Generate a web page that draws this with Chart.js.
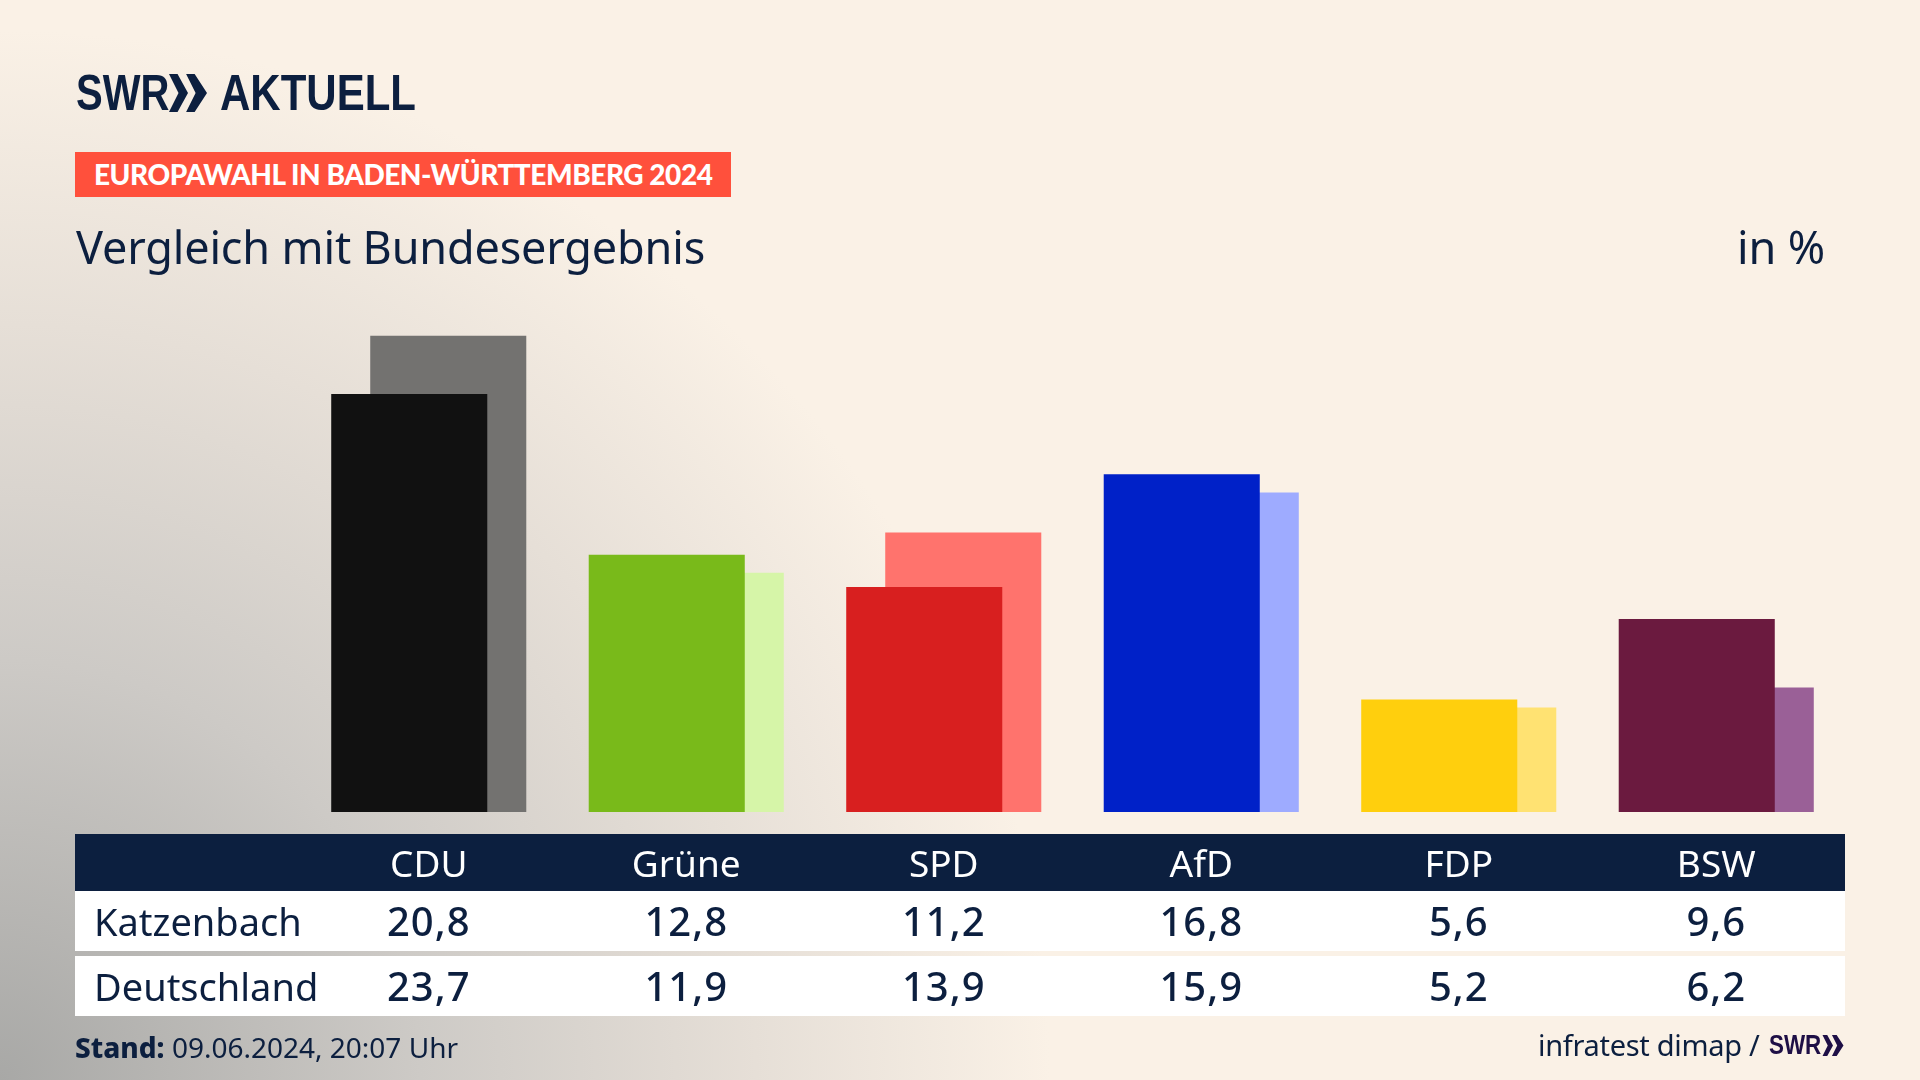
<!DOCTYPE html>
<html lang="de">
<head>
<meta charset="utf-8">
<title>Europawahl in Baden-Württemberg 2024</title>
<script src="https://cdn.jsdelivr.net/npm/chart.js@4"></script>
<style>
  html, body { margin: 0; padding: 0; }
  body {
    position: relative; width: 1920px; height: 1080px; overflow: hidden;
    font-family: "Noto Sans", Lato, sans-serif; color: #0c1f3f;
    background: radial-gradient(ellipse 1050px 1050px at 0% 100%, #a8a8a6 0%, #cdcac6 40%, #e6dfd7 72%, #faf1e6 100%) #faf1e6;
  }
  #chart { position: absolute; left: 0; top: 0; }
  .abs { position: absolute; white-space: nowrap; }
  .logo { font-family: "Liberation Sans", sans-serif; font-weight: 700; font-size: 50px; line-height: 50px; transform-origin: left center; }
  #banner { left: 75px; top: 152px; width: 656px; height: 45px; background: #ff503c; color: #fff;
    font-family: Lato, sans-serif; font-weight: 900; font-size: 28px; letter-spacing: -0.45px; line-height: 45px; text-indent: 19px; }
  #title { left: 76px; top: 217px; font-size: 45px; line-height: 60px; letter-spacing: -0.15px; }
  #unit { right: 95px; top: 217px; font-size: 45px; line-height: 60px; letter-spacing: -0.15px; }
  #table { left: 75px; top: 834px; width: 1770px; }
  .row { display: grid; grid-template-columns: 225px repeat(6, 1fr); align-items: center; text-align: center; }
  .row.head { height: 57px; background: #0c1f3f; color: #fff; font-size: 37px; line-height: 55px; }
  .row.body { height: 60px; background: #fff; font-size: 40px; font-weight: 500; letter-spacing: 1px; line-height: 58px; }
  .row.body + .row.body { margin-top: 5px; }
  .row .name { text-align: left; padding-left: 19px; font-size: 38px; font-weight: 400; letter-spacing: 0; }
  #stand { left: 75px; top: 1027px; font-size: 28px; line-height: 40px; }
  #source { left: 1538px; top: 1025px; font-size: 29px; line-height: 40px; letter-spacing: -0.3px; }
</style>
</head>
<body>
<canvas id="chart" width="1920" height="1080"></canvas>

<div class="abs logo" style="left:76px;top:68px;transform:scaleX(.8)">SWR</div>
<svg class="abs" style="left:168px;top:74px" width="40" height="38" viewBox="0 0 40 40" fill="#0c1f3f">
  <polygon points="0,0 9,0 20,20 9,40 0,40 10,20"/><polygon points="18,0 27,0 40,20 27,40 18,40 28,20"/>
</svg>
<div class="abs logo" style="left:220px;top:68px;transform:scaleX(.84)">AKTUELL</div>

<div class="abs" id="banner">EUROPAWAHL IN BADEN-WÜRTTEMBERG 2024</div>
<div class="abs" id="title">Vergleich mit Bundesergebnis</div>
<div class="abs" id="unit">in %</div>
<div class="abs" id="table"></div>
<div class="abs" id="stand"><b style="font-weight:800">Stand:</b> 09.06.2024, 20:07 Uhr</div>
<div class="abs" id="source">infratest dimap /</div>
<div class="abs logo" style="left:1769px;top:1031px;font-size:28px;line-height:28px;transform:scaleX(.8);color:#1e0f46">SWR</div>
<svg class="abs" style="left:1822px;top:1035px" width="22" height="21" viewBox="0 0 40 40" fill="#1e0f46">
  <polygon points="0,0 9,0 20,20 9,40 0,40 10,20"/><polygon points="18,0 27,0 40,20 27,40 18,40 28,20"/>
</svg>

<script>
const categories = ["CDU", "Grüne", "SPD", "AfD", "FDP", "BSW"];
const katzenbach = [20.8, 12.8, 11.2, 16.8, 5.6, 9.6];
const deutschland = [23.7, 11.9, 13.9, 15.9, 5.2, 6.2];
const frontColors = ["#111111", "#79ba1a", "#d81f1f", "#0021c8", "#ffcf0d", "#6b1a3f"];
const backColors = ["#737270", "#d6f5a8", "#ff736d", "#9eabff", "#ffe272", "#9a6097"];

// table under the bars
const fmt = v => v.toFixed(1).replace(".", ",");
const makeRow = (cls, name, cells) =>
  `<div class="row ${cls}"><div class="name">${name}</div>` +
  cells.map(c => `<div>${c}</div>`).join("") + "</div>";

document.getElementById("table").innerHTML =
  makeRow("head", "", categories) +
  makeRow("body", "Katzenbach", katzenbach.map(fmt)) +
  makeRow("body", "Deutschland", deutschland.map(fmt));

new Chart(document.getElementById("chart"), {
  type: "bar",
  data: {
    labels: categories,
    datasets: [
      { label: "Katzenbach", data: katzenbach, backgroundColor: frontColors },
      { label: "Deutschland", data: deutschland, backgroundColor: backColors }
    ]
  },
  options: {
    responsive: false,
    animation: false,
    // bars wider than their slot, so the two of a party overlap
    datasets: { bar: { categoryPercentage: 0.303, barPercentage: 4 } },
    layout: { padding: { left: 300, right: 75, top: 309.5, bottom: 268 } },
    plugins: { legend: { display: false }, tooltip: { enabled: false } },
    scales: {
      x: { display: false },
      y: { display: false, min: 0, max: 25 }
    }
  }
});
</script>
</body>
</html>
